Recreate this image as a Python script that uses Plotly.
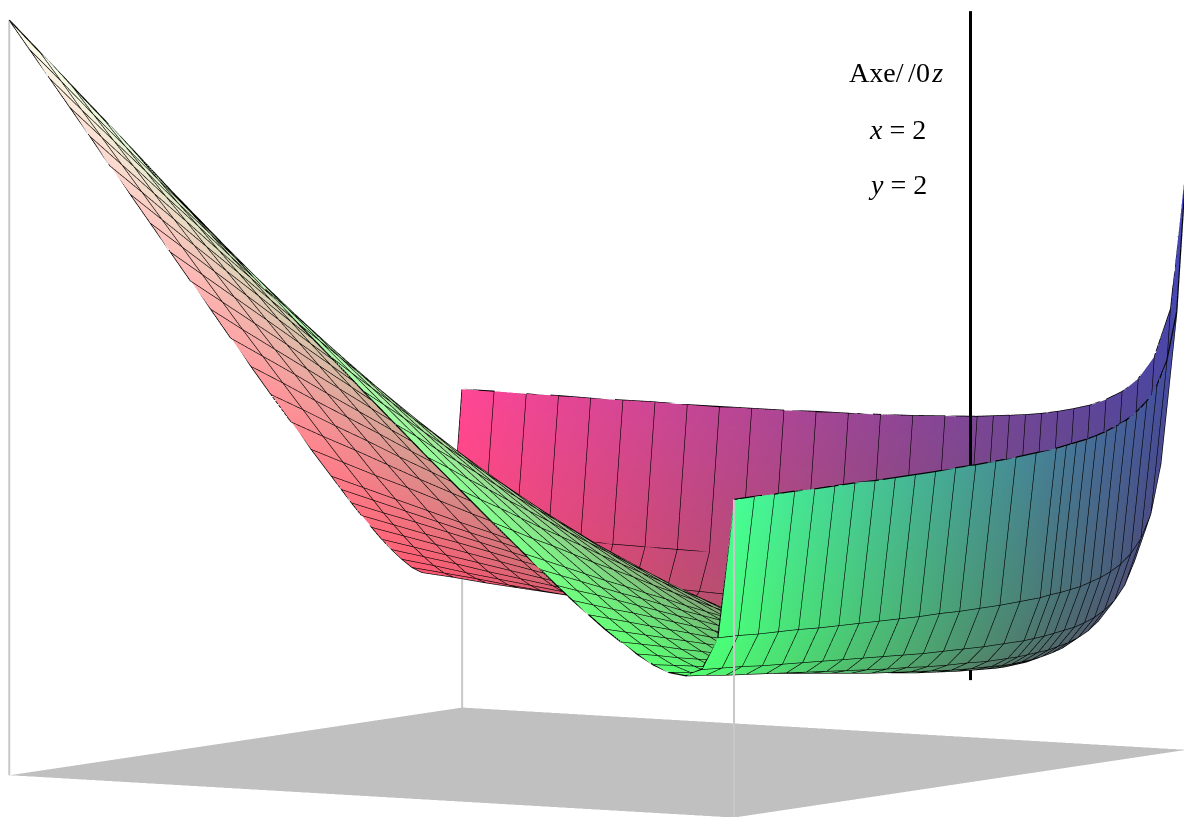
import math
import plotly.graph_objects as go

# grid positions of the mesh lines (same on both floor axes)
grid = [0.2, 0.418, 0.636, 0.853, 1.071, 1.289, 1.507, 1.724, 1.942, 2.16, 2.378, 2.596, 2.813, 3.031, 3.467, 3.902,
        4.338, 4.773, 5.209, 5.644, 6.08, 6.516, 6.951, 7.387, 7.822, 8.258, 8.693, 9.129, 9.564, 10.0]

# surface heights, upper triangle (the surface is mirror-symmetric about its diagonal)
z_rows = [
 [80.0,59.2,52.7,49.6,47.7,46.5,45.6,45.0,44.5,44.1,43.8,43.6,43.4,43.2,43.0,42.8,42.7,42.6,42.6,42.5,42.5,42.5,42.5,42.6,42.6,42.6,42.7,42.7,42.8,42.8],
 [38.5,32.0,28.9,27.1,25.9,25.1,24.5,24.1,23.7,23.5,23.3,23.2,23.0,22.9,22.8,22.8,22.8,22.9,22.9,23.0,23.1,23.2,23.3,23.4,23.6,23.7,23.8,24.0,24.1],
 [25.6,22.5,20.7,19.6,18.8,18.3,17.9,17.7,17.5,17.3,17.2,17.1,17.1,17.1,17.2,17.3,17.4,17.6,17.8,18.0,18.2,18.4,18.6,18.8,19.0,19.3,19.5,19.7],
 [19.5,17.8,16.7,16.0,15.5,15.2,14.9,14.8,14.7,14.6,14.6,14.6,14.8,14.9,15.1,15.4,15.6,15.9,16.2,16.5,16.8,17.1,17.4,17.7,18.0,18.4,18.7],
 [16.1,15.1,14.4,14.0,13.7,13.5,13.4,13.3,13.3,13.4,13.5,13.7,14.0,14.3,14.6,14.9,15.3,15.7,16.1,16.5,16.9,17.3,17.7,18.1,18.6,19.0],
 [14.1,13.5,13.1,12.8,12.7,12.6,12.6,12.7,12.8,13.0,13.3,13.6,14.0,14.5,14.9,15.4,15.8,16.3,16.8,17.3,17.8,18.3,18.9,19.4,19.9],
 [12.9,12.5,12.4,12.3,12.3,12.3,12.4,12.5,12.8,13.2,13.7,14.2,14.7,15.2,15.8,16.4,16.9,17.5,18.1,18.7,19.3,19.9,20.6,21.2],
 [12.3,12.1,12.1,12.1,12.2,12.3,12.5,12.9,13.4,14.0,14.5,15.2,15.8,16.4,17.1,17.8,18.5,19.1,19.8,20.5,21.3,22.0,22.7],
 [12.0,12.0,12.1,12.2,12.4,12.6,13.2,13.7,14.4,15.1,15.8,16.5,17.2,18.0,18.8,19.5,20.3,21.1,21.9,22.7,23.5,24.3],
 [12.1,12.2,12.4,12.6,12.9,13.5,14.2,14.9,15.7,16.5,17.3,18.2,19.0,19.9,20.7,21.6,22.5,23.4,24.3,25.2,26.1],
 [12.4,12.6,12.9,13.2,13.9,14.7,15.5,16.4,17.3,18.2,19.1,20.1,21.0,22.0,23.0,24.0,25.0,25.9,26.9,27.9],
 [12.9,13.2,13.6,14.4,15.3,16.2,17.2,18.1,19.2,20.2,21.2,22.3,23.3,24.4,25.5,26.6,27.7,28.7,29.8],
 [13.6,14.0,14.9,15.9,16.9,17.9,19.0,20.1,21.3,22.4,23.5,24.7,25.9,27.0,28.2,29.4,30.6,31.8],
 [14.5,15.5,16.5,17.6,18.8,20.0,21.2,22.4,23.6,24.9,26.1,27.4,28.6,29.9,31.2,32.5,33.8],
 [16.6,17.9,19.2,20.5,21.9,23.3,24.7,26.1,27.6,29.0,30.4,31.9,33.4,34.8,36.3,37.8],
 [19.3,20.8,22.4,23.9,25.5,27.1,28.7,30.3,32.0,33.6,35.2,36.9,38.6,40.2,41.9],
 [22.5,24.2,26.0,27.7,29.5,31.3,33.1,35.0,36.8,38.6,40.5,42.3,44.2,46.0],
 [26.1,28.1,30.0,32.0,34.0,36.0,38.0,40.0,42.1,44.1,46.1,48.2,50.2],
 [30.2,32.4,34.5,36.7,38.9,41.1,43.3,45.5,47.7,50.0,52.2,54.4],
 [34.7,37.1,39.4,41.8,44.2,46.6,49.0,51.4,53.8,56.2,58.7],
 [39.6,42.2,44.7,47.3,49.9,52.5,55.1,57.7,60.3,62.9],
 [44.9,47.7,50.4,53.2,56.0,58.8,61.6,64.4,67.2],
 [50.6,53.6,56.5,59.5,62.5,65.5,68.5,71.5],
 [56.7,59.9,63.1,66.2,69.4,72.6,75.8],
 [63.2,66.6,69.9,73.3,76.7,80.0],
 [70.1,73.7,77.2,80.8,84.4],
 [77.4,81.2,84.9,88.7],
 [85.1,89.0,93.0],
 [93.2,97.3],
 [101.6],
]
axis_x, axis_y = 2.0, 2.0
axis_z = [10.0, 100.0]
labels = ["Axe/\u200a\u200a/0\u200a<i>z</i>", "<i>x</i> = 2", "<i>y</i> = 2"]
corner_tops = {"left": 101.6, "back": 42.8, "front": 42.8}

n = len(grid)
Z = [[0.0] * n for _ in range(n)]
for i, row in enumerate(z_rows):
    assert len(row) == n - i
    for off, v in enumerate(row):
        Z[i][i + off] = v
        Z[i + off][i] = v

def colour(x, y, z):
    r = 70 + 185 * (x - 0.2) / 9.8
    g = 70 + 185 * (y - 0.2) / 9.8
    b = min(255, 85 + 1.5 * z)
    return f"rgb({r:.0f},{g:.0f},{b:.0f})"

X, Y, H, C, I, J, K = [], [], [], [], [], [], []
for a in range(n):
    for b in range(n):
        X.append(grid[a]); Y.append(grid[b]); H.append(Z[a][b])
        C.append(colour(grid[a], grid[b], Z[a][b]))
for a in range(n - 1):
    for b in range(n - 1):
        p = a * n + b
        q = p + 1
        r = p + n
        s = r + 1
        I += [p, p]; J += [q, s]; K += [s, r]

flat = dict(ambient=1, diffuse=0, specular=0, roughness=1, fresnel=0)
fig = go.Figure()
fig.add_trace(go.Mesh3d(x=[0.2, 10, 10, 0.2], y=[0.2, 0.2, 10, 10], z=[0, 0, 0, 0], i=[0, 0], j=[1, 2], k=[2, 3],
                        color="#c0c0c0", lighting=flat, hoverinfo="skip"))
fig.add_trace(go.Mesh3d(x=X, y=Y, z=H, i=I, j=J, k=K, vertexcolor=C, lighting=flat, hoverinfo="skip"))

lx, ly, lz = [], [], []
for a in range(n):
    lx += [grid[a]] * n + [None]; ly += grid + [None]; lz += Z[a] + [None]
    lx += grid + [None]; ly += [grid[a]] * n + [None]; lz += [Z[b][a] for b in range(n)] + [None]
fig.add_trace(go.Scatter3d(x=lx, y=ly, z=lz, mode="lines", line=dict(color="black", width=2.5), hoverinfo="skip"))

gx = [10, 10, None, 10, 10, None, 0.2, 0.2]
gy = [10, 10, None, 0.2, 0.2, None, 10, 10]
gz = [0, corner_tops["left"], None, 0, corner_tops["back"], None, 0, corner_tops["front"]]
fig.add_trace(go.Scatter3d(x=gx, y=gy, z=gz, mode="lines", line=dict(color="#c8c8c8", width=4), hoverinfo="skip"))
fig.add_trace(go.Scatter3d(x=[axis_x, axis_x], y=[axis_y, axis_y], z=axis_z, mode="lines",
                           line=dict(color="black", width=6), hoverinfo="skip"))

phi = math.radians(122.0)
eps = math.asin(0.0935)
R = 5.0
cx, cy, cz = 0.0126, 0.0078, -0.058
eye = dict(x=cx + R * math.cos(eps) * math.cos(phi), y=cy + R * math.cos(eps) * math.sin(phi), z=cz + R * math.sin(eps))
ax = dict(visible=False, showgrid=False, zeroline=False, showbackground=False, showspikes=False)
fig.update_layout(
    width=1184, height=817, margin=dict(l=0, r=0, t=0, b=0), showlegend=False,
    paper_bgcolor="white",
    scene=dict(
        domain=dict(x=[0, 1], y=[0, 1]),
        xaxis=dict(range=[0.2, 10], **ax), yaxis=dict(range=[0.2, 10], **ax), zaxis=dict(range=[0, 101.6], **ax),
        aspectmode="manual", aspectratio=dict(x=2.092, y=2.092, z=1.857),
        bgcolor="white",
        camera=dict(eye=eye, up=dict(x=0, y=0, z=1), center=dict(x=cx, y=cy, z=cz), projection=dict(type="orthographic")),
    ),
)
for text, px, py in zip(labels, [896, 897, 897], [73, 129, 184]):
    fig.add_annotation(text=text, x=px / 1184, y=1 - py / 817, xref="paper", yref="paper", showarrow=False,
                       xanchor="center", yanchor="middle",
                       font=dict(family="Liberation Serif", size=28, color="black"))
fig.write_html("out.html", config=dict(displayModeBar=False), post_script="document.body.style.margin='0';")
